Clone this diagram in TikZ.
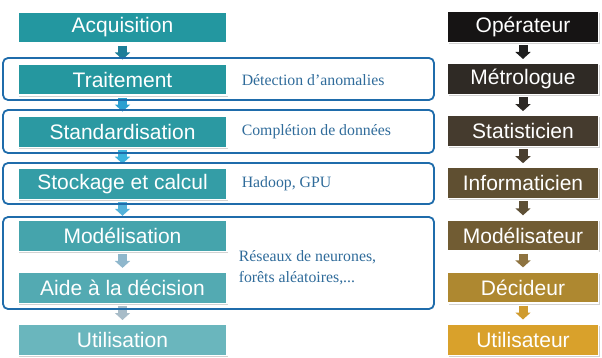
\documentclass[tikz,border=0pt]{standalone}
\usepackage{fontspec}
\setmainfont{Liberation Sans}
\newfontfamily\notefont{Liberation Serif}
\usetikzlibrary{arrows.meta,positioning,shadows,calc}

\definecolor{etape1}{HTML}{2397A0}
\definecolor{etape2}{HTML}{25979F}
\definecolor{etape3}{HTML}{2B99A2}
\definecolor{etape4}{HTML}{349DA6}
\definecolor{etape5}{HTML}{45A4AC}
\definecolor{etape6}{HTML}{53AAB2}
\definecolor{etape7}{HTML}{6AB6BD}
\definecolor{fleche1}{HTML}{1E7E98}
\definecolor{fleche2}{HTML}{2B9FD0}
\definecolor{fleche3}{HTML}{3BB3DD}
\definecolor{fleche4}{HTML}{53B2DA}
\definecolor{fleche5}{HTML}{8FB7CC}
\definecolor{fleche6}{HTML}{A8BCC8}
\definecolor{role1}{HTML}{161414}
\definecolor{role2}{HTML}{2F2A25}
\definecolor{role3}{HTML}{453B2E}
\definecolor{role4}{HTML}{5F4F31}
\definecolor{role5}{HTML}{715C33}
\definecolor{role6}{HTML}{AE8830}
\definecolor{role7}{HTML}{D9A12B}
\definecolor{rfleche1}{HTML}{1F1F1F}
\definecolor{rfleche2}{HTML}{2E2A26}
\definecolor{rfleche3}{HTML}{4A3F30}
\definecolor{rfleche4}{HTML}{5E5036}
\definecolor{rfleche5}{HTML}{8E7340}
\definecolor{rfleche6}{HTML}{CF9B2F}
\definecolor{groupe}{HTML}{1F6CAB}
\definecolor{noteblue}{HTML}{2F6B9A}

\begin{document}
\begin{tikzpicture}[x=1pt, y=-1pt,
    node distance=19.9pt,
    etape/.style={draw=white, line width=1.2pt, minimum width=209pt, minimum height=31pt,
      inner sep=0pt, text=white, font=\fontsize{21}{24}\selectfont,
      drop shadow={shadow xshift=1.2pt, shadow yshift=-1.5pt, fill=black!35, opacity=0.5}},
    metier/.style={etape, minimum width=151pt},
    grp/.style={draw=groupe, line width=1.8pt, rounded corners=5pt},
    note/.style={text=noteblue, align=left, inner sep=0pt,
      font=\notefont\fontsize{15.8}{21}\selectfont},
    fl/.style={line width=9pt, -{Triangle[width=15pt,length=7pt]},
      shorten <=2pt, shorten >=4pt}
  ]
    \useasboundingbox (0,0) rectangle (602,358);

    % chaine de traitement
    \node[etape, fill=etape1] (acq) at (122.5,27.5) {Acquisition};
    \node[etape, fill=etape2, below=of acq] (trait) {Traitement};
    \node[etape, fill=etape3, below=of trait] (stand) {Standardisation};
    \node[etape, fill=etape4, below=of stand] (stock) {Stockage et calcul};
    \node[etape, fill=etape5, below=of stock] (model) {Modélisation};
    \node[etape, fill=etape6, below=of model] (aide) {Aide à la décision};
    \node[etape, fill=etape7, below=of aide] (util) {Utilisation};

    % metiers
    \node[metier, fill=role1] (oper) at (523,27) {Opérateur};
    \node[metier, fill=role2, below=of oper] (metro) {Métrologue};
    \node[metier, fill=role3, below=of metro] (stat) {Statisticien};
    \node[metier, fill=role4, below=of stat] (info) {Informaticien};
    \node[metier, fill=role5, below=of info] (modr) {Modélisateur};
    \node[metier, fill=role6, below=of modr] (decid) {Décideur};
    \node[metier, fill=role7, below=of decid] (utilr) {Utilisateur};

    \foreach \a/\b/\c in {acq/trait/fleche1, trait/stand/fleche2, stand/stock/fleche3,
        stock/model/fleche4, model/aide/fleche5, aide/util/fleche6,
        oper/metro/rfleche1, metro/stat/rfleche2, stat/info/rfleche3,
        info/modr/rfleche4, modr/decid/rfleche5, decid/utilr/rfleche6}
      \draw[fl, draw=\c] (\a) -- (\b);

    % groupes
    \draw[grp] (3,58) rectangle (434,100);
    \draw[grp] (3,110) rectangle (434,153);
    \draw[grp] (3,163) rectangle (434,204);
    \draw[grp] (3,217) rectangle (434,309);

    \node[note, anchor=west, right=14pt of trait] (n1) {Détection d’anomalies};
    \node[note, anchor=west, right=14pt of stand] (n2) {Complétion de données};
    \node[note, anchor=west, right=14pt of stock] (n3) {Hadoop, GPU};
    \node[note, anchor=west] (n4) at ($($(model.east)!0.5!(aide.east)$)+(11,6)$)
      {Réseaux de neurones,\\forêts aléatoires,...};
\end{tikzpicture}
\end{document}
